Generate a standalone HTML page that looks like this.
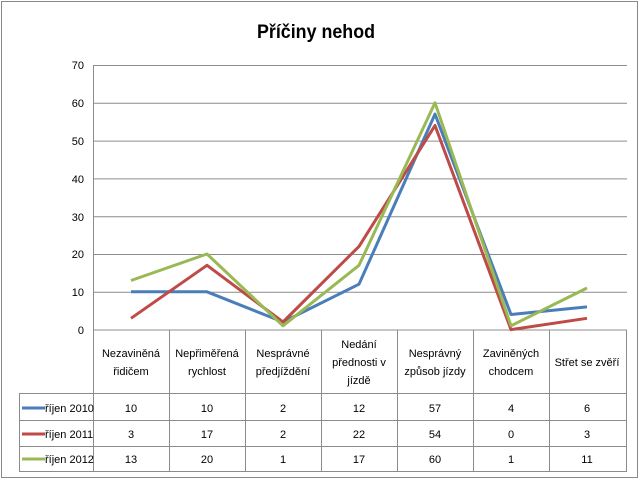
<!DOCTYPE html>
<html><head><meta charset="utf-8"><style>body{margin:0;background:#fff}svg{display:block}text{font-family:"Liberation Sans",sans-serif}</style></head><body>
<svg width="640" height="480" viewBox="0 0 640 480">
<rect x="1.5" y="1.5" width="636" height="476" fill="#fff" stroke="#888" stroke-width="1"/>
<text x="316" y="38" text-anchor="middle" font-size="19" font-weight="bold" fill="#000" textLength="118" lengthAdjust="spacingAndGlyphs">Příčiny nehod</text>
<g stroke="#8c8c8c" stroke-width="1">
<line x1="93" y1="65.5" x2="627" y2="65.5"/><line x1="93" y1="103.3" x2="627" y2="103.3"/><line x1="93" y1="141.1" x2="627" y2="141.1"/><line x1="93" y1="178.9" x2="627" y2="178.9"/><line x1="93" y1="216.7" x2="627" y2="216.7"/><line x1="93" y1="254.5" x2="627" y2="254.5"/><line x1="93" y1="292.3" x2="627" y2="292.3"/>
<line x1="93.5" y1="65" x2="93.5" y2="471"/>
<line x1="93" y1="330" x2="627" y2="330"/>
<line x1="19" y1="393.5" x2="627" y2="393.5"/><line x1="19" y1="420.5" x2="627" y2="420.5"/><line x1="19" y1="446.5" x2="627" y2="446.5"/><line x1="19" y1="471.5" x2="627" y2="471.5"/>
<line x1="19.5" y1="393" x2="19.5" y2="471"/>
<line x1="169.5" y1="330" x2="169.5" y2="471"/><line x1="245.5" y1="330" x2="245.5" y2="471"/><line x1="321.5" y1="330" x2="321.5" y2="471"/><line x1="397.5" y1="330" x2="397.5" y2="471"/><line x1="473.5" y1="330" x2="473.5" y2="471"/><line x1="549.5" y1="330" x2="549.5" y2="471"/><line x1="626.5" y1="330" x2="626.5" y2="471"/>
</g>
<g font-size="11" fill="#000" text-anchor="end">
<text x="84" y="69">70</text><text x="84" y="107">60</text><text x="84" y="145">50</text><text x="84" y="183">40</text><text x="84" y="221">30</text><text x="84" y="258">20</text><text x="84" y="296">10</text><text x="84" y="334">0</text>
</g>
<g font-size="11" fill="#000" text-anchor="middle">
<text x="131" y="357">Nezaviněná</text><text x="131" y="375">řidičem</text>
<text x="207" y="357">Nepřiměřená</text><text x="207" y="375">rychlost</text>
<text x="283" y="357">Nesprávné</text><text x="283" y="375">předjíždění</text>
<text x="359" y="348">Nedání</text><text x="359" y="366">přednosti v</text><text x="359" y="384">jízdě</text>
<text x="435" y="357">Nesprávný</text><text x="435" y="375">způsob jízdy</text>
<text x="511" y="357">Zaviněných</text><text x="511" y="375">chodcem</text>
<text x="587" y="366">Střet se zvěří</text>
<text x="131" y="412">10</text><text x="207" y="412">10</text><text x="283" y="412">2</text><text x="359" y="412">12</text><text x="435" y="412">57</text><text x="511" y="412">4</text><text x="587" y="412">6</text>
<text x="131" y="438">3</text><text x="207" y="438">17</text><text x="283" y="438">2</text><text x="359" y="438">22</text><text x="435" y="438">54</text><text x="511" y="438">0</text><text x="587" y="438">3</text>
<text x="131" y="463">13</text><text x="207" y="463">20</text><text x="283" y="463">1</text><text x="359" y="463">17</text><text x="435" y="463">60</text><text x="511" y="463">1</text><text x="587" y="463">11</text>
</g>
<g font-size="11" fill="#000"><text x="45" y="412">říjen 2010</text><text x="45" y="438">říjen 2011</text><text x="45" y="463">říjen 2012</text></g>
<g stroke-width="3">
<line x1="22" y1="408" x2="45" y2="408" stroke="#4a7ebb"/><line x1="22" y1="434" x2="45" y2="434" stroke="#be4b48"/><line x1="22" y1="459" x2="45" y2="459" stroke="#98b954"/>
</g>
<g fill="none" stroke-width="3" stroke-linejoin="round">
<polyline stroke="#4a7ebb" points="131,291.8 207,291.8 283,322 359,284.2 435,114.1 511,314.5 587,306.9"/>
<polyline stroke="#be4b48" points="131,318.3 207,265.3 283,322 359,246.4 435,125.5 511,329.6 587,318.3"/>
<polyline stroke="#98b954" points="131,280.5 207,254 283,325.8 359,265.3 435,102.8 511,325.8 587,288"/>
</g>
</svg>
</body></html>
